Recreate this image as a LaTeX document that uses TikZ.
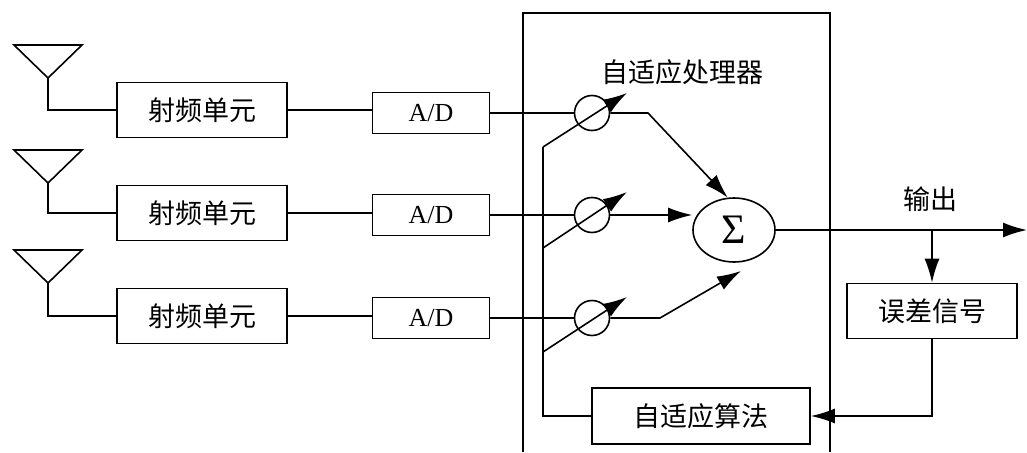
\documentclass[tikz,border=0pt]{standalone}
\usepackage{fontspec}
\setmainfont{Liberation Serif}
\newfontfamily\cjk{Noto Sans CJK SC}
\usetikzlibrary{arrows.meta,shapes.geometric}
\begin{document}
\begin{tikzpicture}[x=1pt,y=-1pt, line width=1.6pt,
 box/.style={draw, rectangle, inner sep=0pt, font=\cjk\fontsize{27}{29}\selectfont},
 rfbox/.style={box, minimum width=170pt, minimum height=55pt},
 adbox/.style={box, minimum width=117pt, minimum height=41pt, font=\fontsize{26}{28}\selectfont},
 wt/.style={draw, circle, minimum size=35pt, inner sep=0pt},
 lbl/.style={font=\cjk\fontsize{27}{29}\selectfont, inner sep=0pt},
 arr/.style={-{Latex[length=24pt,width=15pt]}},
]
\useasboundingbox (0,0) rectangle (1027,452);
% antennas
\coordinate (ant1) at (48,78);
\coordinate (ant2) at (48,183);
\coordinate (ant3) at (48,283);
\draw[line join=miter] (14,45) -- (82,45) -- (ant1) -- cycle;
\draw[line join=miter] (14,150) -- (82,150) -- (ant2) -- cycle;
\draw[line join=miter] (14,250) -- (82,250) -- (ant3) -- cycle;
% RF units
\node[rfbox] (rf1) at (202,110) {射频单元};
\node[rfbox] (rf2) at (202,213) {射频单元};
\node[rfbox] (rf3) at (202,316) {射频单元};
% A/D
\node[adbox] (ad1) at (431,113) {A/D};
\node[adbox] (ad2) at (431,215) {A/D};
\node[adbox] (ad3) at (431,318) {A/D};
\draw (ant1) |- (rf1.west);
\draw (ant2) |- (rf2.west);
\draw (ant3) |- (rf3.west);
\draw (rf1.east) -- (rf1.east -| ad1.west);
\draw (rf2.east) -- (rf2.east -| ad2.west);
\draw (rf3.east) -- (rf3.east -| ad3.west);
% processor frame
\draw (523,452) -- (523,13) -- (830,13) -- (830,452);
\node[lbl] (proc) at (682,72) {自适应处理器};
% weights
\node[wt] (w1) at (592,113) {};
\node[wt] (w2) at (592,215) {};
\node[wt] (w3) at (592,318) {};
\draw (ad1.east) -- (w1.west);
\draw (ad2.east) -- (w2.west);
\draw (ad3.east) -- (w3.west);
% sum
\node[draw, ellipse, minimum width=82pt, minimum height=64pt, inner sep=0pt] (sum) at (734,230) {\fontsize{42}{42}\selectfont Σ};
% algorithm & error
\node[rfbox, minimum width=218pt, minimum height=56pt] (alg) at (701,416) {自适应算法};
\node[rfbox] (err) at (932,311) {误差信号};
% weight control bus
\coordinate (b1) at (543,147);
\coordinate (b2) at (543,248);
\coordinate (b3) at (543,352);
\coordinate (t1) at (627,93);
\coordinate (t2) at (627,192);
\coordinate (t3) at (627,297);
\draw[arr] (b1) -- (t1);
\draw[arr] (b2) -- (t2);
\draw[arr] (b3) -- (t3);
\draw (b1) -- (b2) -- (b3) |- (alg.west);
% weighted outputs to sum
\coordinate (k1) at (648,113);
\coordinate (k3) at (660,318);
\coordinate (s3) at (741,271);
\draw[arr] (w1.east) -- (k1) -- (sum.101);
\draw[arr] (w2.east) -- (w2.east -| sum.west);
\draw[arr] (w3.east) -- (k3) -- (s3);
% output
\coordinate (out) at (1027,230);
\coordinate (br) at (932,230);
\draw[arr] (sum.east) -- (out);
\node[lbl] (outl) at (930,199) {输出};
\draw[arr] (br) -- (err.north);
\draw[arr] (err.south) |- (alg.east);
\end{tikzpicture}
\end{document}
